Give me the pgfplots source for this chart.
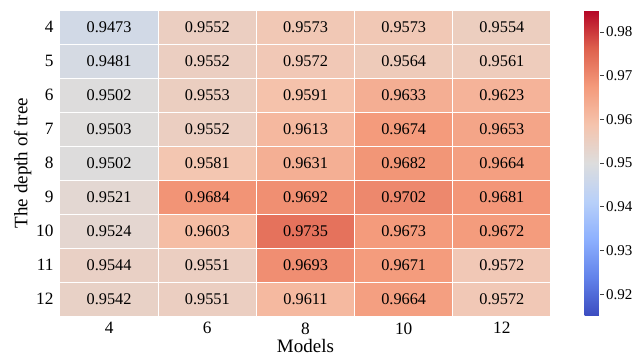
\documentclass[border=0pt]{standalone}
\usepackage{pgfplots}
\pgfplotsset{compat=1.18}
\usepackage{pgfplotstable}
\usepackage{fontspec}
\setmainfont{Liberation Serif}

\pgfplotstableread{
x y c
0 0 0.9473
1 0 0.9552
2 0 0.9573
3 0 0.9573
4 0 0.9554
0 1 0.9481
1 1 0.9552
2 1 0.9572
3 1 0.9564
4 1 0.9561
0 2 0.9502
1 2 0.9553
2 2 0.9591
3 2 0.9633
4 2 0.9623
0 3 0.9503
1 3 0.9552
2 3 0.9613
3 3 0.9674
4 3 0.9653
0 4 0.9502
1 4 0.9581
2 4 0.9631
3 4 0.9682
4 4 0.9664
0 5 0.9521
1 5 0.9684
2 5 0.9692
3 5 0.9702
4 5 0.9681
0 6 0.9524
1 6 0.9603
2 6 0.9735
3 6 0.9673
4 6 0.9672
0 7 0.9544
1 7 0.9551
2 7 0.9693
3 7 0.9671
4 7 0.9572
0 8 0.9542
1 8 0.9551
2 8 0.9611
3 8 0.9664
4 8 0.9572
}\heat

\pgfplotsset{
  colormap={coolwarm}{
    rgb255=(59,76,192) rgb255=(98,130,234) rgb255=(141,176,254)
    rgb255=(184,208,249) rgb255=(221,221,221) rgb255=(245,196,173)
    rgb255=(244,154,123) rgb255=(222,96,77) rgb255=(180,4,38)}
}

\begin{document}
\begin{tikzpicture}
\useasboundingbox (0pt,0pt) rectangle (633pt,359pt);
\begin{axis}[
  at={(60pt,43pt)}, anchor=south west,
  scale only axis, width=491pt, height=306pt,
  xmin=-0.5, xmax=4.5, ymin=-0.5, ymax=8.5,
  y dir=reverse,
  axis line style={draw=none},
  major tick style={draw=none},
  xtick={0,1,2,3,4}, xticklabels={4,6,8,10,12},
  ytick={0,1,2,3,4,5,6,7,8}, yticklabels={4,5,6,7,8,9,10,11,12},
  tick label style={font=\fontsize{17.3}{20}\selectfont},
  xticklabel style={yshift=-3pt},
  yticklabel style={xshift=-3pt},
  xlabel={Models}, ylabel={The depth of tree},
  label style={font=\fontsize{19}{22}\selectfont},
  xlabel style={yshift=2pt},
  ylabel style={yshift=-2pt},
  colormap name=coolwarm,
  point meta min=0.915, point meta max=0.985,
  colorbar,
  colorbar style={
    at={(parent axis.north east)}, anchor=north west, xshift=25pt,
    width=15pt,
    ytick={0.92,0.93,0.94,0.95,0.96,0.97,0.98},
    axis line style={draw=none},
    major tick style={draw=black!75, line width=0.6pt},
    major tick length=4pt,
    ytick pos=right,
    tick align=outside,
    /pgf/number format/assume math mode=true,
    yticklabel style={font=\fontsize{15}{18}\selectfont, /pgf/number format/fixed, /pgf/number format/precision=2, /pgf/number format/fixed zerofill, /pgf/number format/assume math mode=true, xshift=-1pt},
  },
]
\addplot[matrix plot, shader=faceted, faceted color=white, line width=1pt, mesh/cols=5, point meta=explicit] table[x=x, y=y, meta=c] {\heat};
\addplot[only marks, mark=none, nodes near coords, point meta=explicit symbolic,
  nodes near coords style={anchor=center, font=\fontsize{16.3}{19}\selectfont, text=black}]
  table[x=x, y=y, meta=c] {\heat};
\end{axis}
\end{tikzpicture}
\end{document}
